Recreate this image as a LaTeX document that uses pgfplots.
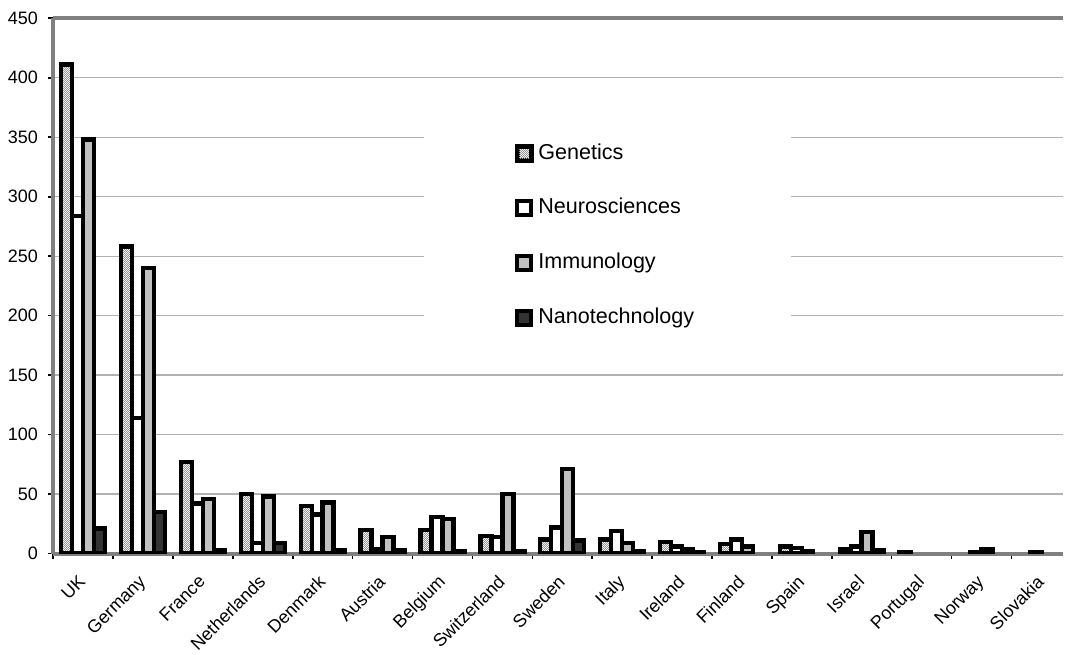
\documentclass[border=0pt]{standalone}
\usepackage{fontspec}
\setmainfont{Liberation Sans}
\usepackage{pgfplots}
\pgfplotsset{compat=1.18}
\usetikzlibrary{patterns}

\definecolor{axisgray}{RGB}{128,128,128}
\definecolor{gridgray}{RGB}{178,178,178}
\definecolor{immuno}{RGB}{192,192,192}
\definecolor{nano}{RGB}{51,51,51}
\definecolor{dotgray}{RGB}{150,150,150}

% fine checkered fill for the Genetics bars
\pgfdeclarepatternformonly{finedots}{\pgfpointorigin}{\pgfqpoint{1pt}{1pt}}{\pgfqpoint{1pt}{1pt}}{%
  \pgfpathrectangle{\pgfpointorigin}{\pgfqpoint{0.5pt}{0.5pt}}%
  \pgfpathrectangle{\pgfqpoint{0.5pt}{0.5pt}}{\pgfqpoint{0.5pt}{0.5pt}}%
  \pgfusepath{fill}}

\begin{document}
\begin{tikzpicture}
% fixed page frame around the plot area
\path (-26.65pt,-46.15pt) rectangle (505.85pt,277.35pt);
\begin{axis}[
  at={(0pt,0pt)}, anchor=south west,
  scale only axis,
  width=505.85pt, height=268.2pt,
  ybar=0pt, bar width=5.5pt,
  xmin=-0.5, xmax=16.3617,
  ymin=0, ymax=450,
  ytick={0,50,...,450},
  xtick={0,...,16},
  xticklabels={UK,Germany,France,Netherlands,Denmark,Austria,Belgium,Switzerland,Sweden,Italy,Ireland,Finland,Spain,Israel,Portugal,Norway,Slovakia},
  minor xtick={-0.5,0.5,...,15.5},
  major x tick style={draw=none},
  axis x line=box, axis y line=left,
  axis line style={-, axisgray, line width=2pt},
  tick pos=left,
  tick align=outside,
  major tick length=2.6pt,
  minor tick length=2.6pt,
  tick style={black, line width=0.8pt},
  ymajorgrids,
  grid style={gridgray, line width=0.7pt},
  /pgf/number format/assume math mode=true,
  ticklabel style={font=\fontsize{9}{10.5}\selectfont, text=black},
  yticklabel style={xshift=-1.5pt},
  xticklabel style={rotate=45, anchor=north east, inner sep=1pt, xshift=-6.1pt, yshift=-2.2pt},
  every axis plot/.append style={draw=black, line width=2.2pt},
  legend image code/.code={\draw[#1, line width=2pt] (0pt,-3.5pt) rectangle (7pt,3.5pt);},
  legend style={
    at={(0.5487,0.594)}, anchor=center,
    draw=none, fill=white,
    inner xsep=46pt, inner ysep=14pt,
    font=\fontsize{10.8}{13}\selectfont,
    row sep=16.9pt,
    nodes={inner xsep=2.5pt, inner ysep=0pt, text height=8pt, text depth=2.5pt},
  },
  legend cell align=left,
]
% Genetics
\addplot[preaction={fill=white}, pattern=finedots, pattern color=dotgray] coordinates {
  (0,411) (1,258) (2,77) (3,50) (4,40) (5,20) (6,20) (7,15) (8,12)
  (9,12) (10,10) (11,8) (12,6) (13,4) (14,1)};
% Neurosciences
\addplot[fill=white] coordinates {
  (0,284) (1,114) (2,42) (3,9) (4,33) (5,4) (6,31) (7,14) (8,22)
  (9,19) (10,6) (11,12) (12,4.5) (13,6) (15,1) (16,1)};
% Immunology
\addplot[fill=immuno] coordinates {
  (0,348) (1,240) (2,46) (3,48) (4,43) (5,14) (6,29) (7,50) (8,71)
  (9,9) (10,4) (11,6) (12,2) (13,18) (15,4)};
% Nanotechnology
\addplot[fill=nano] coordinates {
  (0,21) (1,35) (2,3) (3,9) (4,3) (5,3) (6,2) (7,2) (8,11)
  (9,2) (10,1) (13,3)};
\legend{Genetics,Neurosciences,Immunology,Nanotechnology}
\end{axis}
\end{tikzpicture}
\end{document}
